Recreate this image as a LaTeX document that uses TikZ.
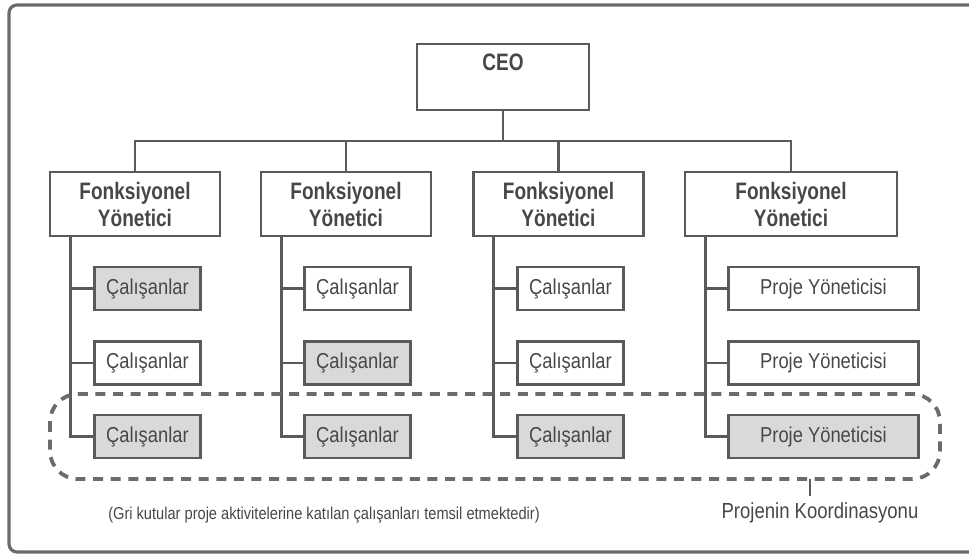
\documentclass[tikz,border=0pt]{standalone}
\usepackage{fontspec}
\setmainfont{Liberation Sans}[FakeStretch=0.85]
\newfontfamily\headfont{Liberation Sans}[FakeStretch=0.8]
\definecolor{linegray}{HTML}{5A5A5A}
\definecolor{textgray}{HTML}{474747}
\definecolor{boxgray}{HTML}{D9D9D9}
\begin{document}
\begin{tikzpicture}[x=0.5pt,y=-0.5pt,
    box/.style={draw=linegray,line width=1.4pt,inner sep=0pt,text=textgray},
    head/.style={box,font=\headfont\bfseries\fontsize{11.9}{13.5}\selectfont,align=center,minimum height=32pt},
    emp/.style={box,anchor=west,minimum height=21.5pt,font=\fontsize{10.8}{12}\selectfont},
    worker/.style={emp,minimum width=53pt},
    pmgr/.style={emp,minimum width=95pt},
    grey/.style={fill=boxgray},
    link/.style={draw=linegray,line width=1.4pt}]
    \useasboundingbox (0,0) rectangle (969,555);
    % frame, open to the right
    \draw[linegray!90,line width=1.6pt,rounded corners=4pt] (975,5) -- (9,5) -- (9,552) -- (975,552);
    % top of the chart
    \node[head,minimum width=86pt,minimum height=33pt,text depth=15pt] (ceo) at (503,77) {CEO};
    \node[head,minimum width=85pt] (fm1) at (135,204) {Fonksiyonel\\Yönetici};
    \node[head,minimum width=85pt] (fm2) at (346,204) {Fonksiyonel\\Yönetici};
    \node[head,minimum width=85pt] (fm3) at (558.5,204) {Fonksiyonel\\Yönetici};
    \node[head,minimum width=106pt] (fm4) at (791,204) {Fonksiyonel\\Yönetici};
    \coordinate (bus) at (0,141);
    \draw[link] (fm1.north) -- (fm1.north |- bus) -- (fm4.north |- bus) -- (fm4.north);
    \draw[link] (ceo.south) -- (ceo.south |- bus);
    \draw[link] (fm2.north) -- (fm2.north |- bus);
    \draw[link] (fm3.north) -- (fm3.north |- bus);
    % staff under each manager
    \node[worker,grey] (c11) at (93,288.5) {Çalışanlar};
    \node[worker] (c12) at (93,363) {Çalışanlar};
    \node[worker,grey] (c13) at (93,436.5) {Çalışanlar};
    \node[worker] (c21) at (303,288.5) {Çalışanlar};
    \node[worker,grey] (c22) at (303,363) {Çalışanlar};
    \node[worker,grey] (c23) at (303,436.5) {Çalışanlar};
    \node[worker] (c31) at (516,288.5) {Çalışanlar};
    \node[worker] (c32) at (516,363) {Çalışanlar};
    \node[worker,grey] (c33) at (516,436.5) {Çalışanlar};
    \node[pmgr] (c41) at (727,288.5) {Proje Yöneticisi};
    \node[pmgr] (c42) at (727,363) {Proje Yöneticisi};
    \node[pmgr,grey] (c43) at (727,436.5) {Proje Yöneticisi};
    \coordinate (v1) at ([xshift=11pt]fm1.south west);
    \coordinate (v2) at ([xshift=11pt]fm2.south west);
    \coordinate (v3) at ([xshift=10.5pt]fm3.south west);
    \coordinate (v4) at ([xshift=11pt]fm4.south west);
    \draw[link] (v1) |- (c13.west);
    \draw[link] (c11.west) -- (c11.west -| v1);
    \draw[link] (c12.west) -- (c12.west -| v1);
    \draw[link] (v2) |- (c23.west);
    \draw[link] (c21.west) -- (c21.west -| v2);
    \draw[link] (c22.west) -- (c22.west -| v2);
    \draw[link] (v3) |- (c33.west);
    \draw[link] (c31.west) -- (c31.west -| v3);
    \draw[link] (c32.west) -- (c32.west -| v3);
    \draw[link] (v4) |- (c43.west);
    \draw[link] (c41.west) -- (c41.west -| v4);
    \draw[link] (c42.west) -- (c42.west -| v4);
    % project coordination
    \draw[linegray!90,line width=1.9pt,dash pattern=on 5pt off 3.8pt,rounded corners=14pt] (50,394) rectangle (940,479);
    \node[text=textgray,font=\fontsize{10.9}{12}\selectfont] (koord) at (820,513) {Projenin Koordinasyonu};
    \coordinate (tick) at (810,479);
    \draw[link] (tick) -- (tick |- koord.north);
    \node[text=textgray,font=\fontsize{8.6}{10}\selectfont] (note) at (324,515) {(Gri kutular proje aktivitelerine katılan çalışanları temsil etmektedir)};
\end{tikzpicture}
\end{document}
